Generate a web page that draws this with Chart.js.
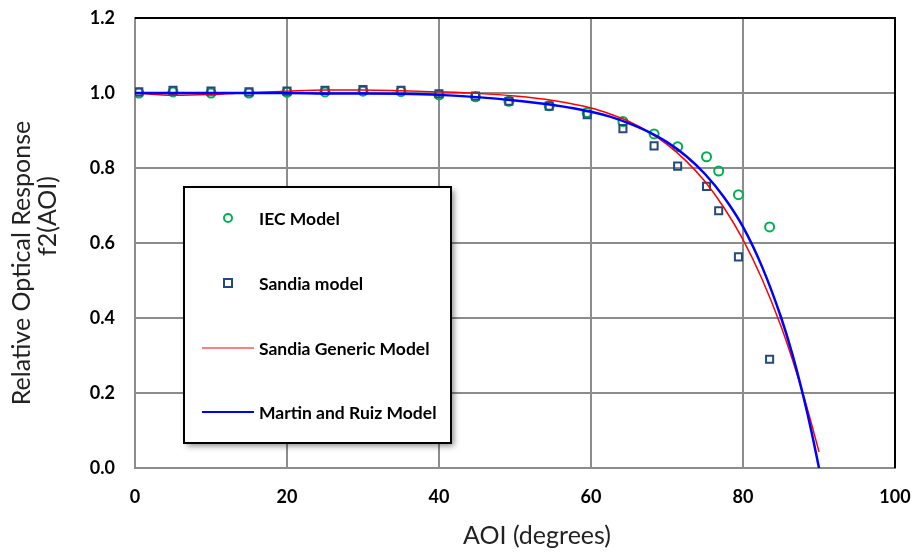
<!DOCTYPE html>
<html>
<head>
<meta charset="utf-8">
<script src="https://cdn.jsdelivr.net/npm/chart.js@4.4.1/dist/chart.umd.min.js"></script>
<style>
  html, body { margin: 0; padding: 0; background: #fff; }
  #wrap { width: 915px; height: 552px; position: relative; }
</style>
</head>
<body>
<div id="wrap"><canvas id="chart" width="915" height="552"></canvas></div>
<script>
// AOI values of the measured points
const aoiPoints = [0.5, 5, 10, 15, 20, 25, 30, 35, 40, 44.8, 49.2, 54.5, 59.5, 64.2, 68.3, 71.4, 75.2, 76.8, 79.4, 83.5];
const iecValues = [1.000, 1.003, 1.000, 1.000, 1.002, 1.003, 1.005, 1.004, 0.995, 0.990, 0.978, 0.966, 0.948, 0.924, 0.891, 0.857, 0.830, 0.792, 0.729, 0.643];
const sandiaValues = [1.003, 1.007, 1.005, 1.003, 1.005, 1.007, 1.009, 1.007, 0.998, 0.992, 0.978, 0.965, 0.942, 0.905, 0.859, 0.805, 0.751, 0.686, 0.563, 0.290];

// curves
const curveAoi = [0, 5, 10, 15, 20, 25, 30, 35, 40, 45, 50, 55, 60, 62.5, 65, 67.5, 70, 72.5, 75, 77.5, 80, 82.5, 85, 86.5, 88, 89, 90];
const genericValues = [1.000, 0.994, 0.996, 1.001, 1.005, 1.008, 1.008, 1.006, 1.003, 0.999, 0.992, 0.980, 0.960, 0.944, 0.924, 0.897, 0.863, 0.819, 0.764, 0.694, 0.609, 0.504, 0.378, 0.289, 0.191, 0.119, 0.043];
const martinValues = [1.000, 1.000, 1.000, 1.000, 1.000, 0.999, 0.999, 0.998, 0.995, 0.989, 0.980, 0.968, 0.950, 0.937, 0.919, 0.897, 0.869, 0.832, 0.784, 0.722, 0.643, 0.537, 0.402, 0.303, 0.186, 0.098, 0.000];

const xTicks = [0, 20, 40, 60, 80, 100];
const yTicks = [0.0, 0.2, 0.4, 0.6, 0.8, 1.0, 1.2];

const FONT = "Lato, 'Open Sans', sans-serif";
const toXY = (xs, ys) => xs.map((x, i) => ({ x: x, y: ys[i] }));

// black top/right border, axis titles and legend box
const framePlugin = {
  id: 'frame',
  afterDatasetsDraw(chart) {
    const { ctx, chartArea: a } = chart;
    ctx.save();
    ctx.strokeStyle = '#000';
    ctx.lineWidth = 2;
    ctx.beginPath();
    ctx.moveTo(a.left, a.top);
    ctx.lineTo(a.right, a.top);
    ctx.lineTo(a.right, a.bottom);
    ctx.stroke();

    // axis titles
    ctx.fillStyle = '#222';
    ctx.font = '25px ' + FONT;
    ctx.textAlign = 'center';
    ctx.textBaseline = 'middle';
    ctx.fillText('AOI (degrees)', 537, 536);
    ctx.save();
    ctx.rotate(-Math.PI / 2);
    ctx.fillText('Relative Optical Response', -263, 22);
    ctx.fillText('f2(AOI)', -216, 48);
    ctx.restore();

    // legend box with shadow
    const bx = 184, by = 187, bw = 267, bh = 256;
    ctx.shadowColor = 'rgba(0,0,0,0.45)';
    ctx.shadowBlur = 6;
    ctx.shadowOffsetX = 3;
    ctx.shadowOffsetY = 3;
    ctx.fillStyle = '#fff';
    ctx.fillRect(bx, by, bw, bh);
    ctx.shadowColor = 'transparent';
    ctx.lineWidth = 2;
    ctx.strokeStyle = '#000';
    ctx.strokeRect(bx, by, bw, bh);

    const items = chart.data.datasets.map(d => d).sort((p, q) => p.legendRank - q.legendRank);
    const rows = [218, 283, 348, 412];
    ctx.font = 'bold 17.5px ' + FONT;
    ctx.textBaseline = 'middle';
    ctx.textAlign = 'left';
    items.forEach((d, i) => {
      const y = rows[i];
      ctx.lineWidth = 2;
      ctx.strokeStyle = d.borderColor;
      if (d.pointStyle === 'circle' && !d.showLine) {
        ctx.beginPath();
        ctx.arc(228, y, 4, 0, Math.PI * 2);
        ctx.stroke();
      } else if (d.pointStyle === 'rect' && !d.showLine) {
        ctx.strokeRect(224, y - 4, 8, 8);
      } else {
        ctx.lineWidth = d.borderWidth > 2 ? 2 : 1.2;
        ctx.beginPath();
        ctx.moveTo(202, y);
        ctx.lineTo(254, y);
        ctx.stroke();
      }
      ctx.fillStyle = '#000';
      ctx.fillText(d.label, 259, y + 1);
    });
    ctx.restore();
  }
};

new Chart(document.getElementById('chart'), {
  type: 'scatter',
  data: {
    datasets: [
      {
        label: 'Martin and Ruiz Model',
        legendRank: 4,
        data: toXY(curveAoi, martinValues),
        showLine: true,
        borderColor: '#0000ff',
        borderWidth: 2.5,
        pointRadius: 0,
        cubicInterpolationMode: 'monotone',
        order: 1
      },
      {
        label: 'Sandia Generic Model',
        legendRank: 3,
        data: toXY(curveAoi, genericValues),
        showLine: true,
        borderColor: '#ff0000',
        borderWidth: 1.5,
        pointRadius: 0,
        cubicInterpolationMode: 'monotone',
        order: 2
      },
      {
        label: 'Sandia model',
        legendRank: 2,
        data: toXY(aoiPoints, sandiaValues),
        pointStyle: 'rect',
        pointRadius: 5,
        borderColor: '#24497e',
        backgroundColor: 'rgba(255,255,255,0)',
        pointBorderWidth: 2,
        order: 3
      },
      {
        label: 'IEC Model',
        legendRank: 1,
        data: toXY(aoiPoints, iecValues),
        pointStyle: 'circle',
        pointRadius: 4.5,
        borderColor: '#00b050',
        backgroundColor: 'rgba(255,255,255,0)',
        pointBorderWidth: 2,
        order: 4
      }
    ]
  },
  options: {
    responsive: false,
    animation: false,
    layout: { padding: { top: 18, right: 20, left: 0, bottom: 0 } },
    plugins: { legend: { display: false }, tooltip: { enabled: false } },
    scales: {
      x: {
        type: 'linear',
        min: 0, max: 100,
        afterBuildTicks: s => { s.ticks = xTicks.map(v => ({ value: v })); },
        afterFit: s => { s.height = 84; s.paddingLeft = 0; s.paddingRight = 0; },
        grid: { color: '#8c8c8c', lineWidth: 2, drawTicks: false },
        border: { color: '#8c8c8c', width: 2 },
        ticks: {
          color: '#000', padding: 18,
          font: { family: FONT, size: 18, weight: 'bold' }
        }
      },
      y: {
        type: 'linear',
        min: 0, max: 1.2,
        afterBuildTicks: s => { s.ticks = yTicks.map(v => ({ value: v })); },
        afterFit: s => { s.width = 135; s.paddingTop = 0; s.paddingBottom = 0; },
        grid: { color: '#8c8c8c', lineWidth: 2, drawTicks: false },
        border: { color: '#8c8c8c', width: 2 },
        ticks: {
          color: '#000', padding: 20,
          font: { family: FONT, size: 18, weight: 'bold' },
          callback: v => v.toFixed(1)
        }
      }
    }
  },
  plugins: [framePlugin]
});
</script>
</body>
</html>
